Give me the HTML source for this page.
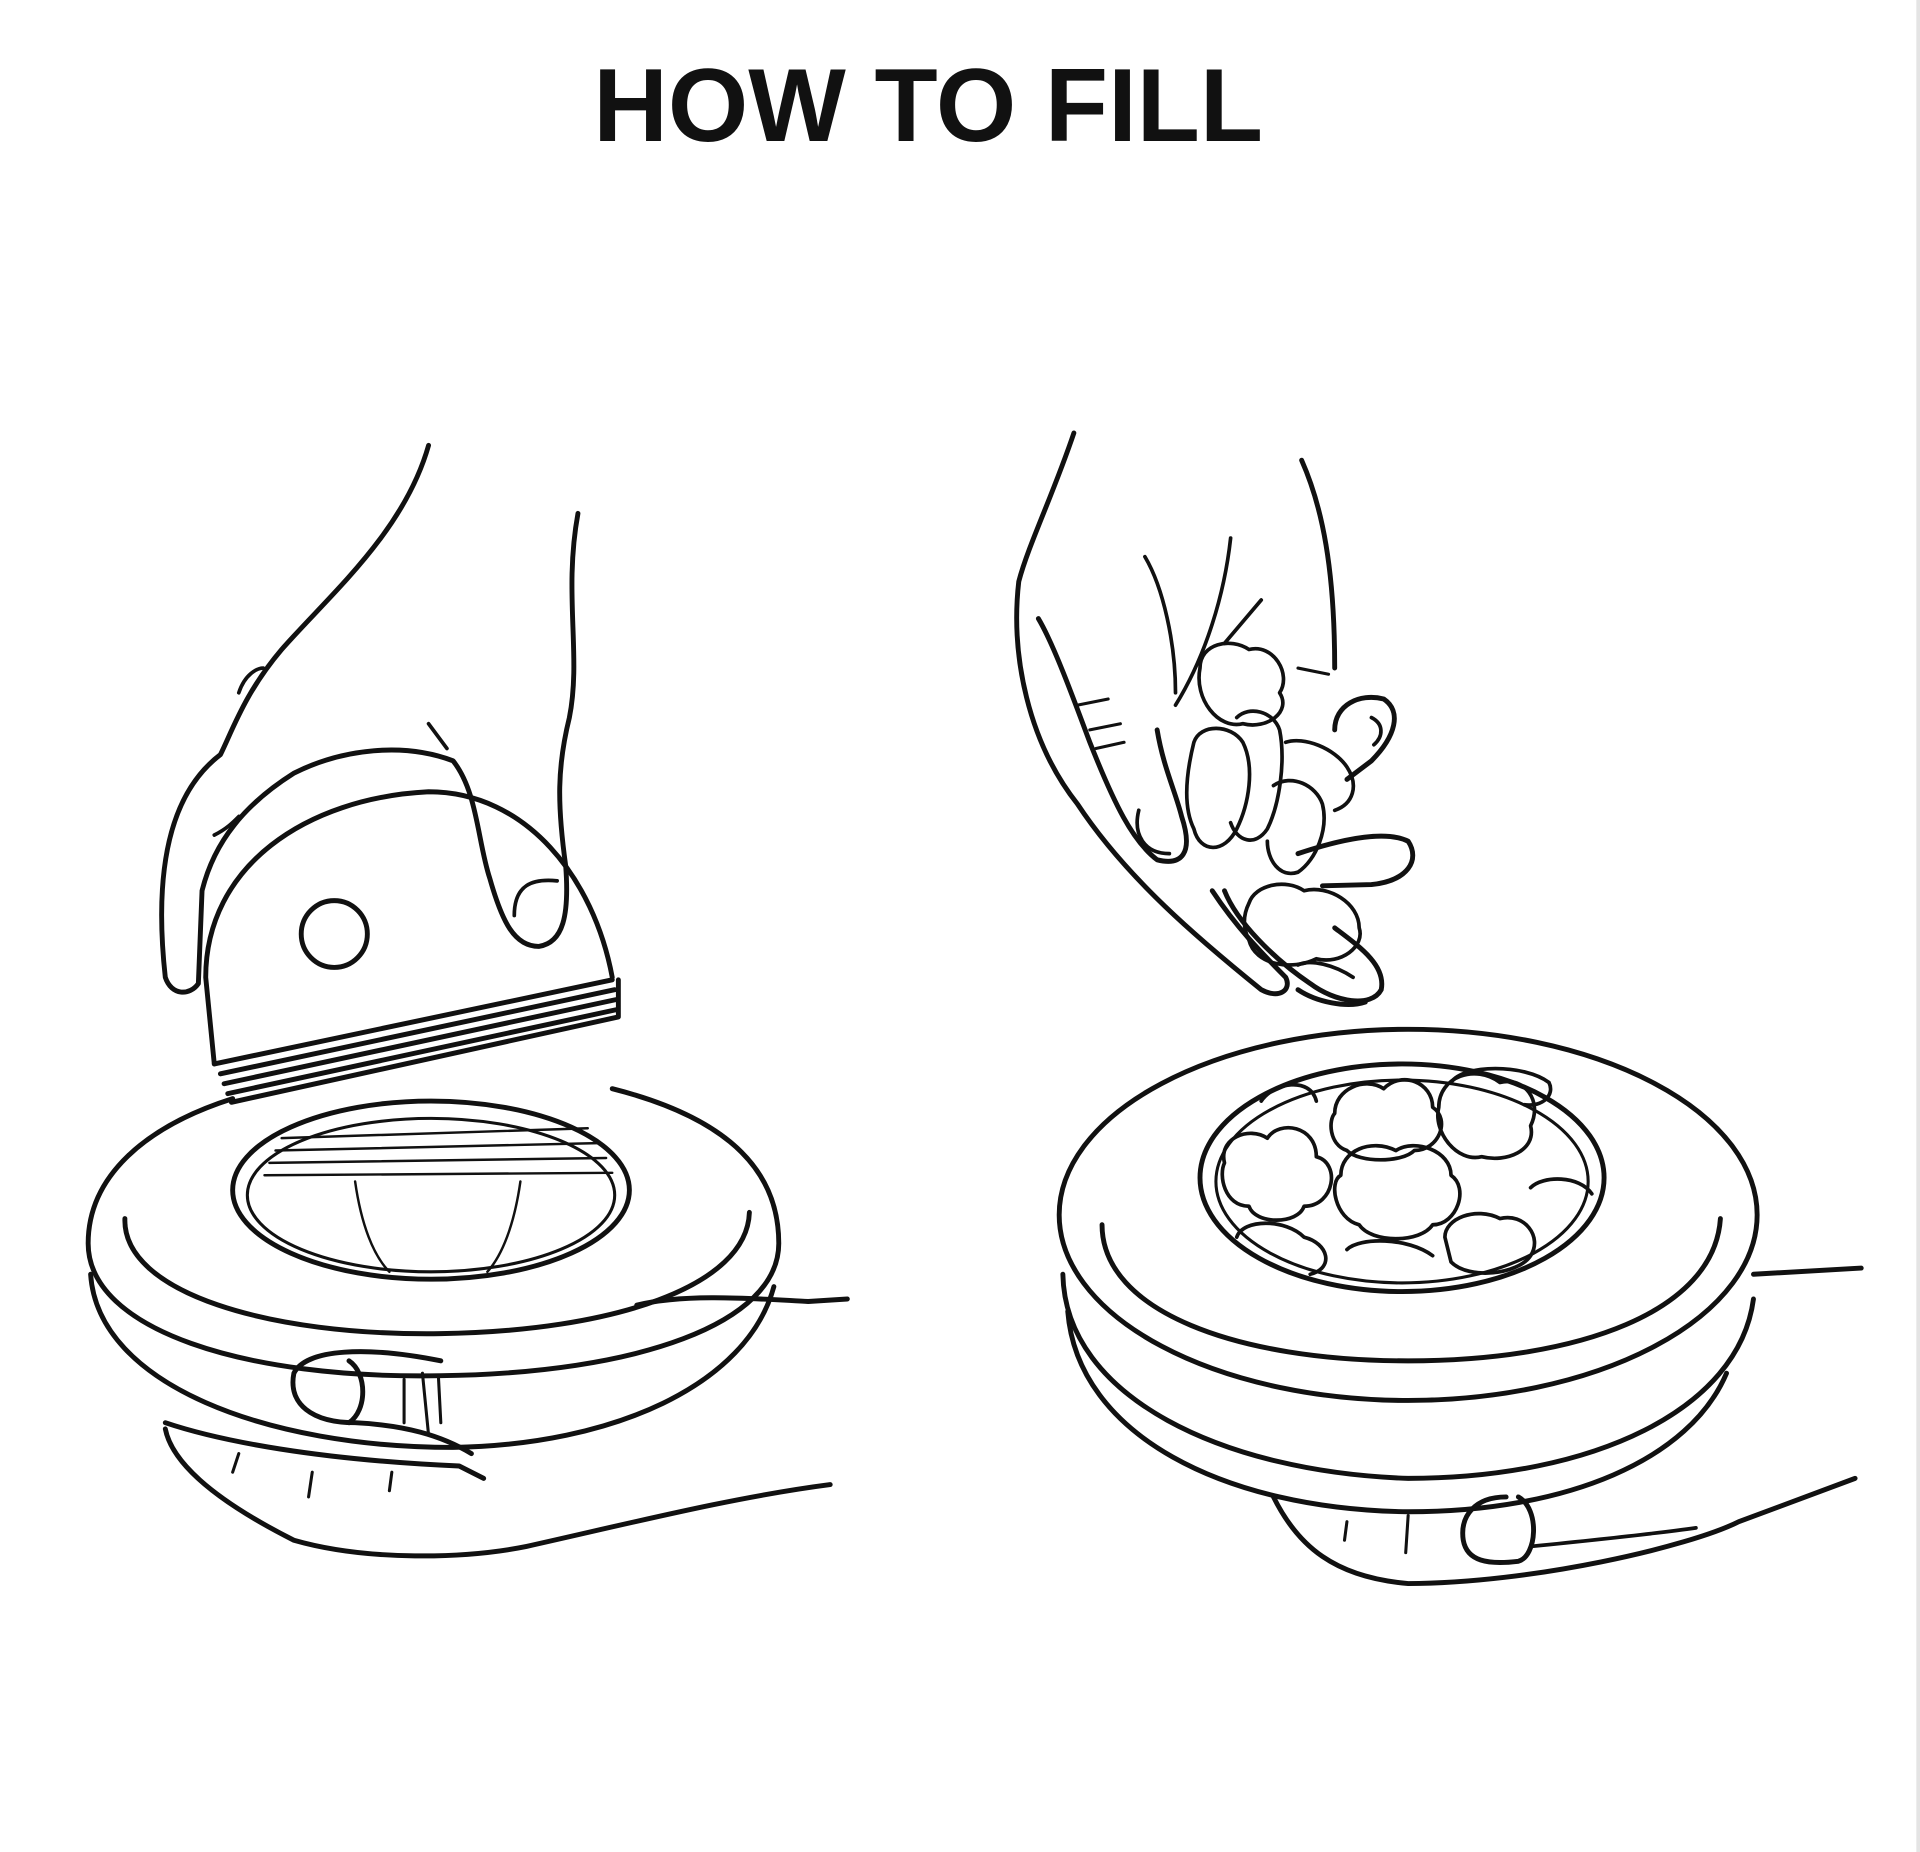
<!DOCTYPE html>
<html><head><meta charset="utf-8"><style>
html,body{margin:0;padding:0;background:#fff;}
svg{display:block;}
</style></head><body>
<svg width="1920" height="1852" viewBox="0 0 1568 1497" preserveAspectRatio="none" xmlns="http://www.w3.org/2000/svg">
<rect x="0" y="0" width="1568" height="1497" fill="#fff"/>
<rect x="1565" y="0" width="3" height="1497" fill="#e4e4e4"/>
<text x="758" y="114" text-anchor="middle" font-family="Liberation Sans, sans-serif" font-weight="bold" font-size="84" textLength="547" lengthAdjust="spacingAndGlyphs" fill="#111">HOW TO FILL</text>
<g fill="none" stroke="#111" stroke-width="4" stroke-linecap="round" stroke-linejoin="round">
<!-- LEFT base -->
<path d="M190,888 C120,910 72,950 72,1005 C72,1075 200,1115 360,1112 C520,1110 636,1070 636,1005 C636,950 600,905 500,880"/>
<path d="M102,985 C100,1045 220,1080 360,1078 C500,1076 610,1040 612,980"/>
<ellipse cx="352" cy="962" rx="162" ry="72"/>
<ellipse cx="352" cy="966" rx="150" ry="62" stroke-width="2.5"/>
<path d="M230,920 L480,912 M225,930 L488,924 M220,940 L495,936 M216,950 L500,948" stroke-width="2"/>
<path d="M290,955 C295,990 305,1015 318,1028 M425,955 C420,990 410,1015 398,1028" stroke-width="2"/>
<path d="M74,1030 C80,1120 220,1170 370,1170 C500,1168 610,1120 632,1040"/>
<!-- lower left hand -->
<path d="M360,1100 C300,1088 250,1090 240,1110 C235,1135 255,1150 290,1150 C330,1152 360,1160 385,1175"/>
<path d="M285,1100 C300,1110 300,1140 285,1150"/>
<path d="M330,1115 L330,1150 M345,1110 L350,1160 M358,1112 L360,1150" stroke-width="2.5"/>
<path d="M520,1055 C560,1045 620,1050 660,1052 L692,1050"/>
<path d="M135,1155 C140,1180 170,1210 240,1245 C300,1262 380,1260 430,1250 C520,1230 600,1210 678,1200"/>
<path d="M135,1150 C180,1165 260,1180 375,1185 L395,1195"/>
<path d="M195,1175 L190,1190 M255,1190 L252,1210 M320,1190 L318,1205" stroke-width="2.5"/>
<!-- lid -->
<path d="M175,860 L168,790 C168,700 250,645 350,640 C430,640 485,710 500,790"/>
<path d="M175,860 L500,792 M180,868 L502,800 M183,876 L503,808 M186,884 L504,816 M189,891 L505,822 M505,792 L505,822"/>
<circle cx="273" cy="755" r="27"/>
<!-- upper left hand -->
<path d="M350,360 C330,430 270,480 230,525 C200,560 190,590 180,610 C140,640 125,700 135,790 C140,805 155,805 162,795 L165,720 C175,680 200,650 240,625 C280,605 330,600 370,615 C390,640 390,680 400,710 C410,745 420,765 440,765 C460,762 465,740 462,700 C455,650 455,620 465,580 C475,530 460,480 472,415"/>
<path d="M420,740 C420,715 435,710 455,712" stroke-width="3"/>
<path d="M195,560 C200,545 210,540 215,540 M175,675 C185,670 190,665 195,660 M350,585 L365,605" stroke-width="3"/>
<!-- RIGHT base -->
<ellipse cx="1150" cy="982" rx="285" ry="150"/>
<path d="M900,990 C900,1060 1010,1100 1150,1100 C1290,1100 1400,1060 1405,985"/>
<ellipse cx="1145" cy="952" rx="165" ry="92"/>
<ellipse cx="1145" cy="955" rx="152" ry="82" stroke-width="2.5"/>
<path d="M868,1030 C870,1130 1000,1190 1150,1195 C1300,1195 1420,1140 1432,1050"/>
<path d="M872,1060 C880,1160 1000,1220 1150,1222 C1280,1222 1380,1180 1410,1110"/>
<path d="M1432,1030 L1520,1025"/>
<path d="M1040,1210 C1060,1250 1090,1275 1150,1280 C1250,1280 1380,1250 1420,1230 L1515,1195"/>
<path d="M1230,1210 C1205,1210 1192,1225 1195,1245 C1198,1262 1215,1265 1240,1262 C1255,1258 1258,1220 1240,1210"/>
<path d="M1250,1250 C1300,1245 1350,1240 1385,1235" stroke-width="3"/>
<path d="M1150,1225 L1148,1255 M1100,1230 L1098,1245" stroke-width="2.5"/>
<!-- buds in bowl -->
<g stroke-width="3">
<path d="M1000,940 c-5,-20 20,-30 35,-20 c10,-15 40,-10 40,15 c20,5 15,40 -10,40 c-5,15 -40,15 -45,0 c-20,0 -25,-25 -20,-35z"/>
<path d="M1095,950 c0,-20 25,-30 45,-20 c15,-10 45,0 45,20 c15,10 5,40 -15,40 c-10,15 -50,15 -60,0 c-20,-5 -25,-35 -15,-40z"/>
<path d="M1090,900 c0,-20 25,-30 40,-20 c15,-15 40,-5 40,15 c15,10 5,35 -15,35 c-10,10 -45,10 -55,0 c-15,-5 -15,-25 -10,-30z"/>
<path d="M1175,895 c0,-25 30,-35 50,-20 c20,-5 35,15 25,35 c5,20 -20,30 -40,25 c-20,5 -40,-20 -35,-40z"/>
<path d="M1185,875 c10,-15 60,-15 80,0 c5,10 -5,20 -20,18"/>
<path d="M1180,1000 c0,-15 25,-25 45,-15 c20,-5 35,15 25,30 c-10,15 -50,20 -65,5z"/>
<path d="M1010,1000 c5,-15 40,-15 55,0 c20,5 25,25 5,30"/>
<path d="M1030,890 c10,-15 40,-20 45,0"/>
<path d="M1250,960 c10,-10 40,-10 50,5"/>
<path d="M1100,1010 c10,-10 50,-10 70,5"/>
</g>
<!-- upper right hand -->
<path d="M877,350 C860,400 840,440 832,470 C825,530 840,600 880,650 C920,710 980,760 1030,800 C1045,808 1055,800 1050,790 C1030,770 1010,750 990,720"/>
<path d="M1063,372 C1080,410 1090,460 1090,540"/>
<path d="M848,500 C860,520 875,560 890,600 C910,650 925,680 945,695 C965,700 975,690 965,660 C960,640 950,620 945,590"/>
<path d="M930,655 C925,675 935,690 955,690" stroke-width="3"/>
<path d="M935,450 C950,475 960,520 960,560 M1005,435 C1000,480 985,530 960,570 M1030,485 L1000,520" stroke-width="3"/>
<path d="M1090,590 C1090,570 1110,560 1130,565 C1145,575 1140,595 1120,615 L1100,630"/>
<path d="M1120,580 C1130,585 1130,595 1122,602" stroke-width="3"/>
<path d="M1060,690 C1090,680 1130,670 1150,680 C1160,695 1150,712 1120,715 L1080,716"/>
<path d="M1000,720 C1010,745 1040,775 1070,795 C1090,810 1120,815 1128,800 C1132,780 1110,765 1090,750"/>
<path d="M1060,800 C1075,810 1100,815 1115,810"/>
<path d="M890,590 L915,585 M895,605 L918,600 M880,570 L905,565" stroke-width="2.5"/>
<path d="M1060,540 L1085,545" stroke-width="2.5"/>
<!-- falling buds -->
<g stroke-width="3">
<path d="M980,540 c0,-20 25,-25 40,-15 c20,-5 35,20 25,35 c10,15 -10,30 -30,25 c-20,5 -40,-20 -35,-45z"/>
<path d="M975,600 c5,-15 30,-15 40,0 c10,20 5,50 -5,70 c-10,20 -30,20 -35,0 c-10,-20 -5,-50 0,-70z"/>
<path d="M1010,580 c10,-10 30,-5 35,10 c5,25 0,60 -10,80 c-10,15 -25,10 -30,-5"/>
<path d="M1050,600 c15,-5 40,5 50,20 c10,15 5,30 -10,35"/>
<path d="M1040,635 c15,-10 35,0 40,15 c5,20 -5,45 -20,55 c-15,5 -25,-10 -25,-25"/>
<path d="M1020,730 c5,-15 30,-20 45,-10 c20,-5 45,10 45,30 c5,15 -15,30 -35,25 c-20,10 -50,5 -55,-15 c-5,-10 -5,-20 0,-30z"/>
<path d="M1060,780 c10,-5 30,0 45,10"/>
</g>
</g>
</svg>
</body></html>
